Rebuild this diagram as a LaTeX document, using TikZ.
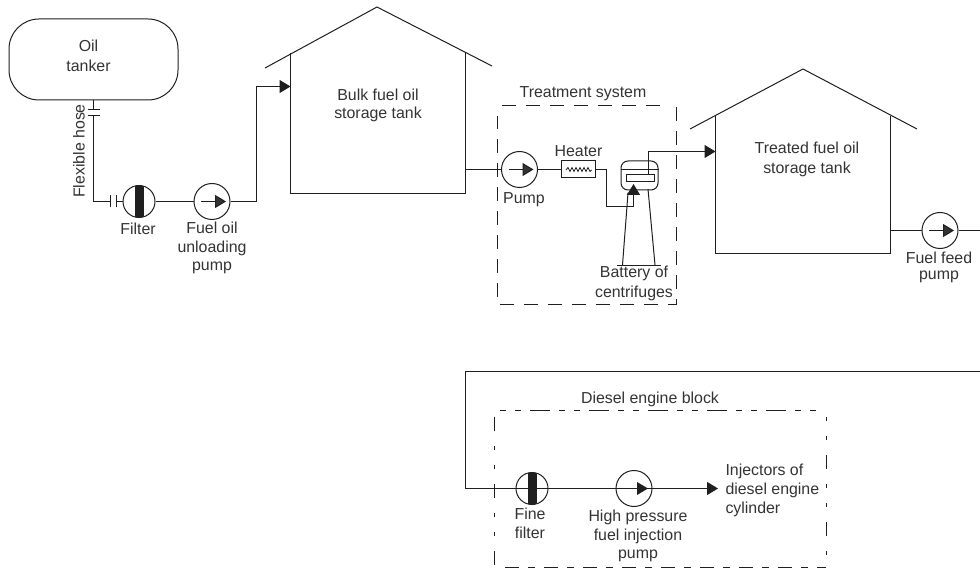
\documentclass[tikz,border=0pt]{standalone}
\usepackage{fontspec}
\setmainfont{Liberation Sans}
\usetikzlibrary{arrows.meta}
\definecolor{inkline}{gray}{0.12}
\definecolor{inktext}{gray}{0.2}
\begin{document}
\begin{tikzpicture}[x=1pt, y=-1pt, line width=1pt, draw=inkline,
  every node/.style={font=\fontsize{15.9}{19.5}\selectfont, text=inktext, align=center, inner sep=0pt},
  flow/.style={-{Triangle[length=11pt,width=13pt]}},
  pumpnode/.style={circle, draw, fill=white, minimum size=36pt,
    path picture={\draw[flow] (-11pt,0) -- (14pt,0);}},
  filternode/.style={circle, draw, fill=white, minimum size=32pt,
    path picture={\fill[inkline] (-4.5pt,-17pt) rectangle (4.5pt,17pt);}},
  longdash/.style={line width=0.9pt, dash pattern=on 14pt off 10pt},
  dotdash/.style={line width=0.9pt, dash pattern=on 20pt off 9pt on 6pt off 9pt on 6pt off 9pt, dash phase=29pt},
  sidedash/.style={line width=0.9pt, dash pattern=on 14pt off 15pt on 4pt off 15pt on 4pt off 15pt}]
\useasboundingbox (0,0) rectangle (980,569);
% oil tanker and hose
\node[draw, rounded corners=30pt, minimum width=169pt, minimum height=81pt] (tanker) at (93.5,59.5) {};
\node at (88.5,46) {Oil};
\node at (88.5,66) {tanker};
\coordinate (hoseA) at (93.5,109.5);
\coordinate (hoseB) at (93.5,115.5);
\coordinate (bend) at (93.5,201.5);
\coordinate (flangeA) at (110.5,201.5);
\coordinate (flangeB) at (116.5,201.5);
\node[rotate=90] (hoselabel) at (79,151) {Flexible hose};
\draw (tanker.south -| hoseA) -- (hoseA);
\draw (hoseB) -- (bend) -- (flangeA);
\draw ([xshift=-6pt]hoseA) -- ([xshift=6pt]hoseA);
\draw ([xshift=-6pt]hoseB) -- ([xshift=6pt]hoseB);
\draw ([yshift=-6pt]flangeA) -- ([yshift=6pt]flangeA);
\draw ([yshift=-6pt]flangeB) -- ([yshift=6pt]flangeB);
% unloading line
\node[filternode] (filter) at (139,201.5) {};
\node at (138,229) {Filter};
\node[pumpnode] (unload) at (212,201.5) {};
\node at (212,228) {Fuel oil};
\node at (212,248) {unloading};
\node at (212,268) {pump};
\coordinate (riser) at (256.5,201.5);
\draw (flangeB) -- (filter);
\draw (filter) -- (unload);
% bulk tank
\coordinate (bulkL) at (290.5,53.5);
\coordinate (bulkR) at (465.5,53.5);
\coordinate (bulkIn) at (290.5,86.5);
\coordinate (bulkOut) at (465.5,169.5);
\draw (265,68) -- (377,7) -- (492,66);
\draw (bulkL) -- (290.5,193.5) -- (465.5,193.5) -- (bulkR);
\node at (378,95) {Bulk fuel oil};
\node at (378,114) {storage tank};
\draw[flow] (unload) -- (riser) -- (riser |- bulkIn) -- (bulkIn);
% treatment system
\draw[longdash] (502,105.5) -- (664,105.5);
\draw[longdash] (676.5,107) -- (676.5,304.5) -- (497.5,304.5) -- (497.5,116);
\node at (583,94) {Treatment system};
\node[pumpnode] (feedpump) at (519.5,169.5) {};
\node at (524,200) {Pump};
\draw (bulkOut) -- (feedpump);
\node[draw, minimum width=34pt, minimum height=17pt] (heater) at (578.5,169.5) {};
\node at (578.5,151) {Heater};
\draw (feedpump) -- (heater);
\draw[line width=0.8pt] (566,170) -- (568,167.5) -- (570,171.5) -- (572,167.5) -- (574,171.5) -- (576,167.5) -- (578,171.5) -- (580,167.5) -- (582,171.5) -- (584,167.5) -- (586,171.5) -- (588,167.5) -- (590,171.5) -- (591.5,170);
% centrifuge
\node[draw, rounded corners=7pt, minimum width=37pt, minimum height=29pt] (centrifuge) at (639.5,175.5) {};
\node[draw, minimum width=28pt, minimum height=7pt] (rotor) at (640,178.5) {};
\coordinate (heatBend) at (606.5,169.5);
\coordinate (feedTail) at (633.5,206.5);
\coordinate (feedIn) at (633.5,184);
\coordinate (outBend) at (648.5,151.5);
\coordinate (baseL) at (617,265.5);
\coordinate (baseR) at (661,265.5);
\draw (centrifuge.west |- 0,169.5) -- (centrifuge.east |- 0,169.5);
\draw (heater) -- (heatBend) -- (heatBend |- feedTail) -- (feedTail);
\draw[flow] (feedTail) -- (feedIn);
\draw (baseL) -- (baseR);
\draw (628,193) -- (622.5,265);
\draw (648,189) -- (655,265);
\node at (634,273.5) {Battery of};
\node at (634,293) {centrifuges};
% treated tank
\coordinate (treatL) at (715.5,116);
\coordinate (treatR) at (890.5,116);
\coordinate (treatIn) at (715.5,151.5);
\coordinate (treatOut) at (890.5,230.5);
\draw (690,129) -- (803,69) -- (917,129);
\draw (treatL) -- (715.5,253.5) -- (890.5,253.5) -- (treatR);
\node at (807,148) {Treated fuel oil};
\node at (807,169) {storage tank};
\draw[flow] (outBend |- rotor.north) -- (outBend) -- (treatIn);
% fuel feed
\node[pumpnode] (fuelfeed) at (940,230.5) {};
\node at (939,258) {Fuel feed};
\node at (939,277) {pump};
\coordinate (edgeA) at (980,230.5);
\coordinate (edgeB) at (980,371.5);
\coordinate (corner) at (465.5,371.5);
\coordinate (drop) at (465.5,488.5);
\draw (treatOut) -- (fuelfeed);
\draw (fuelfeed) -- (edgeA);
\draw (edgeB) -- (corner) -- (drop);
% engine block
\draw[dotdash] (500,410.5) -- (820,410.5);
\draw[sidedash, dash phase=29pt] (826.5,417) -- (826.5,566);
\draw[sidedash] (494.5,417) -- (494.5,566);
\draw[line width=0.9pt, dash pattern=on 14pt off 9pt on 7pt off 9pt] (505,567) -- (826,567);
\node at (650,399) {Diesel engine block};
\node[filternode] (finefilter) at (532,488.5) {};
\node[pumpnode, path picture={}] (hppump) at (634,488.5) {};
\coordinate (injectIn) at (718,488.5);
\draw[flow] (drop) -- (finefilter.center) -- (hppump.center) -- (injectIn);
\fill[inkline] (hppump.center) ++(3,-6.5) -- ++(11,6.5) -- ++(-11,6.5) -- cycle;
\node at (530,514) {Fine};
\node at (530,533) {filter};
\node at (638,517) {High pressure};
\node at (638,536) {fuel injection};
\node at (638,556) {pump};
\node[anchor=west] at (725,471) {Injectors of};
\node[anchor=west] at (725,490) {diesel engine};
\node[anchor=west] at (725,509) {cylinder};
\end{tikzpicture}
\end{document}
